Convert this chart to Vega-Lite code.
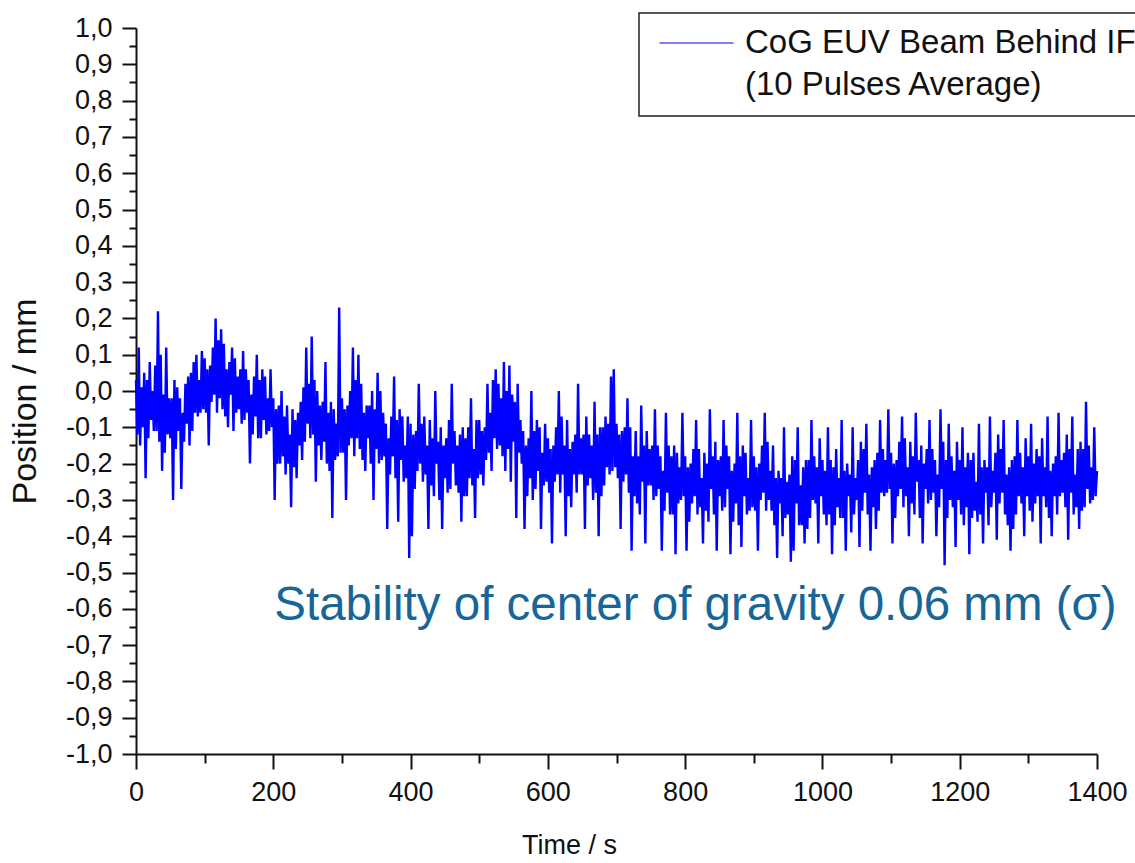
{
"$schema": "https://vega.github.io/schema/vega-lite/v6.json",
"width": 961,
"height": 726,
"autosize": {"type": "none"},
"padding": {"left": 136, "top": 28, "right": 38, "bottom": 109},
"background": "white",
"config": {"view": {"stroke": null}, "font": "Liberation Sans", "legend": {"strokeWidth": 1.5},
"axis": {"grid": false, "domainColor": "#111", "domainWidth": 2, "tickColor": "#111", "tickWidth": 2, "labelFont": "Liberation Sans", "labelFontSize": 27, "labelColor": "#111", "labelPadding": 10, "labelOverlap": false, "labelFlush": false, "titleFont": "Liberation Sans", "titleFontWeight": "normal", "titleColor": "#111", "titleBaseline": "middle", "titleAlign": "center"}},
"datasets": {"cog": [
{"t":0,"y":0.03},{"t":2,"y":-0.12},{"t":4,"y":0.12},{"t":6,"y":-0.15},{"t":8,"y":0.01},
{"t":10,"y":-0.10},{"t":12,"y":0.05},{"t":14,"y":-0.24},{"t":16,"y":0.03},{"t":18,"y":-0.13},
{"t":20,"y":0.08},{"t":22,"y":-0.08},{"t":24,"y":0.00},{"t":26,"y":-0.11},{"t":28,"y":0.07},
{"t":30,"y":-0.11},{"t":32,"y":0.22},{"t":34,"y":-0.14},{"t":36,"y":0.10},{"t":38,"y":-0.22},
{"t":40,"y":-0.01},{"t":42,"y":-0.17},{"t":44,"y":0.12},{"t":46,"y":-0.12},{"t":48,"y":-0.02},
{"t":50,"y":-0.13},{"t":52,"y":-0.02},{"t":54,"y":-0.30},{"t":56,"y":0.03},{"t":58,"y":-0.16},
{"t":60,"y":0.01},{"t":62,"y":-0.11},{"t":64,"y":-0.02},{"t":66,"y":-0.27},{"t":68,"y":-0.06},
{"t":70,"y":-0.14},{"t":72,"y":0.02},{"t":74,"y":-0.09},{"t":76,"y":0.04},{"t":78,"y":-0.15},
{"t":80,"y":0.05},{"t":82,"y":-0.11},{"t":84,"y":0.08},{"t":86,"y":-0.06},{"t":88,"y":0.10},
{"t":90,"y":-0.07},{"t":92,"y":0.03},{"t":94,"y":-0.06},{"t":96,"y":0.11},{"t":98,"y":-0.05},
{"t":100,"y":0.09},{"t":102,"y":-0.06},{"t":104,"y":0.06},{"t":106,"y":-0.15},{"t":108,"y":0.07},
{"t":110,"y":-0.03},{"t":112,"y":0.12},{"t":114,"y":-0.01},{"t":116,"y":0.20},{"t":118,"y":-0.06},
{"t":120,"y":0.14},{"t":122,"y":-0.02},{"t":124,"y":0.17},{"t":126,"y":-0.05},{"t":128,"y":0.13},
{"t":130,"y":-0.07},{"t":132,"y":0.06},{"t":134,"y":-0.10},{"t":136,"y":0.08},{"t":138,"y":-0.01},
{"t":140,"y":0.12},{"t":142,"y":-0.11},{"t":144,"y":0.09},{"t":146,"y":-0.06},{"t":148,"y":0.04},
{"t":150,"y":-0.05},{"t":152,"y":0.06},{"t":154,"y":-0.09},{"t":156,"y":0.11},{"t":158,"y":-0.08},
{"t":160,"y":0.06},{"t":162,"y":-0.06},{"t":164,"y":0.03},{"t":166,"y":-0.20},{"t":168,"y":-0.01},
{"t":170,"y":-0.12},{"t":172,"y":0.04},{"t":174,"y":-0.07},{"t":176,"y":0.10},{"t":178,"y":-0.13},
{"t":180,"y":0.03},{"t":182,"y":-0.13},{"t":184,"y":0.06},{"t":186,"y":-0.08},{"t":188,"y":0.04},
{"t":190,"y":-0.12},{"t":192,"y":-0.02},{"t":194,"y":-0.11},{"t":196,"y":0.06},{"t":198,"y":-0.10},
{"t":200,"y":-0.02},{"t":202,"y":-0.30},{"t":204,"y":-0.05},{"t":206,"y":-0.20},{"t":208,"y":-0.04},
{"t":210,"y":-0.20},{"t":212,"y":0.00},{"t":214,"y":-0.18},{"t":216,"y":-0.07},{"t":218,"y":-0.23},
{"t":220,"y":-0.04},{"t":222,"y":-0.20},{"t":224,"y":-0.12},{"t":226,"y":-0.32},{"t":228,"y":-0.05},
{"t":230,"y":-0.21},{"t":232,"y":-0.08},{"t":234,"y":-0.24},{"t":236,"y":-0.06},{"t":238,"y":-0.15},
{"t":240,"y":-0.03},{"t":242,"y":-0.19},{"t":244,"y":0.01},{"t":246,"y":-0.14},{"t":248,"y":0.12},
{"t":250,"y":-0.09},{"t":252,"y":0.02},{"t":254,"y":-0.13},{"t":256,"y":0.15},{"t":258,"y":-0.12},
{"t":260,"y":0.03},{"t":262,"y":-0.25},{"t":264,"y":0.00},{"t":266,"y":-0.15},{"t":268,"y":-0.04},
{"t":270,"y":-0.19},{"t":272,"y":-0.03},{"t":274,"y":-0.14},{"t":276,"y":0.08},{"t":278,"y":-0.20},
{"t":280,"y":-0.06},{"t":282,"y":-0.22},{"t":284,"y":-0.03},{"t":286,"y":-0.35},{"t":288,"y":-0.05},
{"t":290,"y":-0.19},{"t":292,"y":-0.09},{"t":294,"y":-0.18},{"t":296,"y":0.23},{"t":298,"y":-0.17},
{"t":300,"y":-0.02},{"t":302,"y":-0.17},{"t":304,"y":-0.05},{"t":306,"y":-0.30},{"t":308,"y":-0.04},
{"t":310,"y":-0.15},{"t":312,"y":0.00},{"t":314,"y":-0.13},{"t":316,"y":0.12},{"t":318,"y":-0.18},
{"t":320,"y":0.03},{"t":322,"y":-0.13},{"t":324,"y":0.10},{"t":326,"y":-0.16},{"t":328,"y":0.02},
{"t":330,"y":-0.19},{"t":332,"y":-0.06},{"t":334,"y":-0.22},{"t":336,"y":-0.04},{"t":338,"y":-0.13},
{"t":340,"y":-0.04},{"t":342,"y":-0.20},{"t":344,"y":0.00},{"t":346,"y":-0.30},{"t":348,"y":-0.05},
{"t":350,"y":-0.16},{"t":352,"y":0.05},{"t":354,"y":-0.20},{"t":356,"y":0.00},{"t":358,"y":-0.19},
{"t":360,"y":-0.06},{"t":362,"y":-0.18},{"t":364,"y":-0.09},{"t":366,"y":-0.38},{"t":368,"y":-0.13},
{"t":370,"y":-0.23},{"t":372,"y":-0.07},{"t":374,"y":-0.18},{"t":376,"y":0.04},{"t":378,"y":-0.24},
{"t":380,"y":-0.08},{"t":382,"y":-0.36},{"t":384,"y":-0.05},{"t":386,"y":-0.19},{"t":388,"y":-0.07},
{"t":390,"y":-0.25},{"t":392,"y":-0.15},{"t":394,"y":-0.24},{"t":396,"y":-0.07},{"t":398,"y":-0.46},
{"t":400,"y":-0.09},{"t":402,"y":-0.40},{"t":404,"y":-0.12},{"t":406,"y":-0.27},{"t":408,"y":-0.11},
{"t":410,"y":-0.22},{"t":412,"y":0.02},{"t":414,"y":-0.20},{"t":416,"y":-0.09},{"t":418,"y":-0.25},
{"t":420,"y":-0.07},{"t":422,"y":-0.23},{"t":424,"y":-0.15},{"t":426,"y":-0.38},{"t":428,"y":-0.08},
{"t":430,"y":-0.26},{"t":432,"y":-0.13},{"t":434,"y":-0.29},{"t":436,"y":0.00},{"t":438,"y":-0.20},
{"t":440,"y":-0.14},{"t":442,"y":-0.30},{"t":444,"y":-0.10},{"t":446,"y":-0.38},{"t":448,"y":-0.15},
{"t":450,"y":-0.24},{"t":452,"y":-0.13},{"t":454,"y":-0.28},{"t":456,"y":-0.08},{"t":458,"y":-0.27},
{"t":460,"y":0.02},{"t":462,"y":-0.20},{"t":464,"y":-0.11},{"t":466,"y":-0.26},{"t":468,"y":-0.15},
{"t":470,"y":-0.28},{"t":472,"y":-0.12},{"t":474,"y":-0.36},{"t":476,"y":-0.10},{"t":478,"y":-0.29},
{"t":480,"y":-0.13},{"t":482,"y":-0.29},{"t":484,"y":-0.10},{"t":486,"y":-0.24},{"t":488,"y":-0.02},
{"t":490,"y":-0.26},{"t":492,"y":-0.16},{"t":494,"y":-0.35},{"t":496,"y":-0.08},{"t":498,"y":-0.24},
{"t":500,"y":-0.08},{"t":502,"y":-0.23},{"t":504,"y":-0.11},{"t":506,"y":-0.26},{"t":508,"y":-0.10},
{"t":510,"y":-0.19},{"t":512,"y":0.02},{"t":514,"y":-0.17},{"t":516,"y":-0.06},{"t":518,"y":-0.22},
{"t":520,"y":0.03},{"t":522,"y":-0.13},{"t":524,"y":0.06},{"t":526,"y":-0.16},{"t":528,"y":0.02},
{"t":530,"y":-0.15},{"t":532,"y":-0.02},{"t":534,"y":-0.18},{"t":536,"y":0.08},{"t":538,"y":-0.22},
{"t":540,"y":0.00},{"t":542,"y":-0.16},{"t":544,"y":0.07},{"t":546,"y":-0.25},{"t":548,"y":-0.01},
{"t":550,"y":-0.14},{"t":552,"y":-0.03},{"t":554,"y":-0.35},{"t":556,"y":0.02},{"t":558,"y":-0.17},
{"t":560,"y":-0.08},{"t":562,"y":-0.20},{"t":564,"y":-0.11},{"t":566,"y":-0.38},{"t":568,"y":-0.15},
{"t":570,"y":-0.29},{"t":572,"y":-0.13},{"t":574,"y":-0.24},{"t":576,"y":0.00},{"t":578,"y":-0.30},
{"t":580,"y":-0.11},{"t":582,"y":-0.27},{"t":584,"y":-0.08},{"t":586,"y":-0.22},{"t":588,"y":-0.10},
{"t":590,"y":-0.38},{"t":592,"y":-0.17},{"t":594,"y":-0.26},{"t":596,"y":-0.09},{"t":598,"y":-0.25},
{"t":600,"y":-0.13},{"t":602,"y":-0.28},{"t":604,"y":-0.16},{"t":606,"y":-0.42},{"t":608,"y":-0.15},
{"t":610,"y":-0.25},{"t":612,"y":-0.10},{"t":614,"y":-0.23},{"t":616,"y":0.00},{"t":618,"y":-0.28},
{"t":620,"y":-0.07},{"t":622,"y":-0.23},{"t":624,"y":-0.15},{"t":626,"y":-0.40},{"t":628,"y":-0.08},
{"t":630,"y":-0.29},{"t":632,"y":-0.16},{"t":634,"y":-0.32},{"t":636,"y":-0.14},{"t":638,"y":-0.23},
{"t":640,"y":-0.12},{"t":642,"y":-0.28},{"t":644,"y":0.02},{"t":646,"y":-0.23},{"t":648,"y":-0.13},
{"t":650,"y":-0.23},{"t":652,"y":-0.12},{"t":654,"y":-0.38},{"t":656,"y":-0.07},{"t":658,"y":-0.26},
{"t":660,"y":-0.12},{"t":662,"y":-0.24},{"t":664,"y":-0.15},{"t":666,"y":-0.30},{"t":668,"y":-0.03},
{"t":670,"y":-0.28},{"t":672,"y":-0.12},{"t":674,"y":-0.40},{"t":676,"y":-0.10},{"t":678,"y":-0.29},
{"t":680,"y":-0.10},{"t":682,"y":-0.26},{"t":684,"y":-0.07},{"t":686,"y":-0.21},{"t":688,"y":-0.09},
{"t":690,"y":-0.23},{"t":692,"y":0.04},{"t":694,"y":-0.22},{"t":696,"y":0.06},{"t":698,"y":-0.21},
{"t":700,"y":-0.09},{"t":702,"y":-0.24},{"t":704,"y":-0.12},{"t":706,"y":-0.38},{"t":708,"y":-0.11},
{"t":710,"y":-0.25},{"t":712,"y":-0.10},{"t":714,"y":-0.23},{"t":716,"y":-0.02},{"t":718,"y":-0.28},
{"t":720,"y":-0.10},{"t":722,"y":-0.44},{"t":724,"y":-0.18},{"t":726,"y":-0.29},{"t":728,"y":-0.11},
{"t":730,"y":-0.31},{"t":732,"y":-0.18},{"t":734,"y":-0.34},{"t":736,"y":-0.04},{"t":738,"y":-0.25},
{"t":740,"y":-0.15},{"t":742,"y":-0.42},{"t":744,"y":-0.11},{"t":746,"y":-0.26},{"t":748,"y":-0.16},
{"t":750,"y":-0.26},{"t":752,"y":-0.15},{"t":754,"y":-0.30},{"t":756,"y":-0.05},{"t":758,"y":-0.29},
{"t":760,"y":-0.15},{"t":762,"y":-0.27},{"t":764,"y":-0.18},{"t":766,"y":-0.44},{"t":768,"y":-0.22},
{"t":770,"y":-0.33},{"t":772,"y":-0.06},{"t":774,"y":-0.28},{"t":776,"y":-0.15},{"t":778,"y":-0.34},
{"t":780,"y":-0.18},{"t":782,"y":-0.34},{"t":784,"y":-0.15},{"t":786,"y":-0.45},{"t":788,"y":-0.17},
{"t":790,"y":-0.31},{"t":792,"y":-0.21},{"t":794,"y":-0.30},{"t":796,"y":-0.06},{"t":798,"y":-0.29},
{"t":800,"y":-0.18},{"t":802,"y":-0.44},{"t":804,"y":-0.21},{"t":806,"y":-0.36},{"t":808,"y":-0.20},
{"t":810,"y":-0.31},{"t":812,"y":-0.16},{"t":814,"y":-0.29},{"t":816,"y":-0.08},{"t":818,"y":-0.34},
{"t":820,"y":-0.16},{"t":822,"y":-0.32},{"t":824,"y":-0.24},{"t":826,"y":-0.42},{"t":828,"y":-0.17},
{"t":830,"y":-0.33},{"t":832,"y":-0.20},{"t":834,"y":-0.36},{"t":836,"y":-0.05},{"t":838,"y":-0.27},
{"t":840,"y":-0.18},{"t":842,"y":-0.34},{"t":844,"y":-0.14},{"t":846,"y":-0.44},{"t":848,"y":-0.19},
{"t":850,"y":-0.29},{"t":852,"y":-0.18},{"t":854,"y":-0.33},{"t":856,"y":-0.08},{"t":858,"y":-0.32},
{"t":860,"y":-0.15},{"t":862,"y":-0.27},{"t":864,"y":-0.18},{"t":866,"y":-0.45},{"t":868,"y":-0.22},
{"t":870,"y":-0.36},{"t":872,"y":-0.20},{"t":874,"y":-0.31},{"t":876,"y":-0.06},{"t":878,"y":-0.37},
{"t":880,"y":-0.18},{"t":882,"y":-0.43},{"t":884,"y":-0.15},{"t":886,"y":-0.29},{"t":888,"y":-0.17},
{"t":890,"y":-0.34},{"t":892,"y":-0.24},{"t":894,"y":-0.33},{"t":896,"y":-0.08},{"t":898,"y":-0.32},
{"t":900,"y":-0.18},{"t":902,"y":-0.33},{"t":904,"y":-0.21},{"t":906,"y":-0.44},{"t":908,"y":-0.20},
{"t":910,"y":-0.30},{"t":912,"y":-0.15},{"t":914,"y":-0.28},{"t":916,"y":-0.06},{"t":918,"y":-0.33},
{"t":920,"y":-0.14},{"t":922,"y":-0.30},{"t":924,"y":-0.22},{"t":926,"y":-0.33},{"t":928,"y":-0.15},
{"t":930,"y":-0.37},{"t":932,"y":-0.24},{"t":934,"y":-0.46},{"t":936,"y":-0.22},{"t":938,"y":-0.31},
{"t":940,"y":-0.24},{"t":942,"y":-0.40},{"t":944,"y":-0.10},{"t":946,"y":-0.35},{"t":948,"y":-0.25},
{"t":950,"y":-0.34},{"t":952,"y":-0.23},{"t":954,"y":-0.47},{"t":956,"y":-0.18},{"t":958,"y":-0.44},
{"t":960,"y":-0.19},{"t":962,"y":-0.31},{"t":964,"y":-0.10},{"t":966,"y":-0.37},{"t":968,"y":-0.26},
{"t":970,"y":-0.37},{"t":972,"y":-0.21},{"t":974,"y":-0.42},{"t":976,"y":-0.19},{"t":978,"y":-0.38},
{"t":980,"y":-0.19},{"t":982,"y":-0.35},{"t":984,"y":-0.08},{"t":986,"y":-0.30},{"t":988,"y":-0.18},
{"t":990,"y":-0.31},{"t":992,"y":-0.21},{"t":994,"y":-0.42},{"t":996,"y":-0.13},{"t":998,"y":-0.29},
{"t":1000,"y":-0.19},{"t":1002,"y":-0.34},{"t":1004,"y":-0.22},{"t":1006,"y":-0.37},{"t":1008,"y":-0.10},
{"t":1010,"y":-0.34},{"t":1012,"y":-0.19},{"t":1014,"y":-0.45},{"t":1016,"y":-0.21},{"t":1018,"y":-0.37},
{"t":1020,"y":-0.16},{"t":1022,"y":-0.32},{"t":1024,"y":-0.24},{"t":1026,"y":-0.35},{"t":1028,"y":-0.08},
{"t":1030,"y":-0.35},{"t":1032,"y":-0.22},{"t":1034,"y":-0.44},{"t":1036,"y":-0.20},{"t":1038,"y":-0.29},
{"t":1040,"y":-0.23},{"t":1042,"y":-0.39},{"t":1044,"y":-0.10},{"t":1046,"y":-0.34},{"t":1048,"y":-0.24},
{"t":1050,"y":-0.30},{"t":1052,"y":-0.19},{"t":1054,"y":-0.43},{"t":1056,"y":-0.14},{"t":1058,"y":-0.33},
{"t":1060,"y":-0.16},{"t":1062,"y":-0.28},{"t":1064,"y":-0.09},{"t":1066,"y":-0.34},{"t":1068,"y":-0.23},
{"t":1070,"y":-0.44},{"t":1072,"y":-0.21},{"t":1074,"y":-0.32},{"t":1076,"y":-0.19},{"t":1078,"y":-0.38},
{"t":1080,"y":-0.17},{"t":1082,"y":-0.33},{"t":1084,"y":-0.08},{"t":1086,"y":-0.28},{"t":1088,"y":-0.16},
{"t":1090,"y":-0.29},{"t":1092,"y":-0.19},{"t":1094,"y":-0.28},{"t":1096,"y":-0.05},{"t":1098,"y":-0.27},
{"t":1100,"y":-0.17},{"t":1102,"y":-0.42},{"t":1104,"y":-0.20},{"t":1106,"y":-0.35},{"t":1108,"y":-0.19},
{"t":1110,"y":-0.29},{"t":1112,"y":-0.14},{"t":1114,"y":-0.27},{"t":1116,"y":-0.07},{"t":1118,"y":-0.32},
{"t":1120,"y":-0.13},{"t":1122,"y":-0.29},{"t":1124,"y":-0.21},{"t":1126,"y":-0.40},{"t":1128,"y":-0.14},
{"t":1130,"y":-0.31},{"t":1132,"y":-0.18},{"t":1134,"y":-0.34},{"t":1136,"y":-0.06},{"t":1138,"y":-0.25},
{"t":1140,"y":-0.19},{"t":1142,"y":-0.35},{"t":1144,"y":-0.15},{"t":1146,"y":-0.42},{"t":1148,"y":-0.20},
{"t":1150,"y":-0.27},{"t":1152,"y":-0.16},{"t":1154,"y":-0.31},{"t":1156,"y":-0.08},{"t":1158,"y":-0.30},
{"t":1160,"y":-0.16},{"t":1162,"y":-0.28},{"t":1164,"y":-0.19},{"t":1166,"y":-0.40},{"t":1168,"y":-0.23},
{"t":1170,"y":-0.32},{"t":1172,"y":-0.05},{"t":1174,"y":-0.27},{"t":1176,"y":-0.14},{"t":1178,"y":-0.48},
{"t":1180,"y":-0.19},{"t":1182,"y":-0.35},{"t":1184,"y":-0.09},{"t":1186,"y":-0.30},{"t":1188,"y":-0.18},
{"t":1190,"y":-0.32},{"t":1192,"y":-0.22},{"t":1194,"y":-0.43},{"t":1196,"y":-0.14},{"t":1198,"y":-0.30},
{"t":1200,"y":-0.19},{"t":1202,"y":-0.34},{"t":1204,"y":-0.10},{"t":1206,"y":-0.37},{"t":1208,"y":-0.21},
{"t":1210,"y":-0.32},{"t":1212,"y":-0.17},{"t":1214,"y":-0.45},{"t":1216,"y":-0.19},{"t":1218,"y":-0.35},
{"t":1220,"y":-0.17},{"t":1222,"y":-0.33},{"t":1224,"y":-0.25},{"t":1226,"y":-0.36},{"t":1228,"y":-0.09},
{"t":1230,"y":-0.34},{"t":1232,"y":-0.21},{"t":1234,"y":-0.42},{"t":1236,"y":-0.19},{"t":1238,"y":-0.28},
{"t":1240,"y":-0.21},{"t":1242,"y":-0.37},{"t":1244,"y":-0.07},{"t":1246,"y":-0.32},{"t":1248,"y":-0.22},
{"t":1250,"y":-0.28},{"t":1252,"y":-0.17},{"t":1254,"y":-0.41},{"t":1256,"y":-0.12},{"t":1258,"y":-0.31},
{"t":1260,"y":-0.16},{"t":1262,"y":-0.28},{"t":1264,"y":-0.08},{"t":1266,"y":-0.34},{"t":1268,"y":-0.23},
{"t":1270,"y":-0.37},{"t":1272,"y":-0.21},{"t":1274,"y":-0.44},{"t":1276,"y":-0.19},{"t":1278,"y":-0.38},
{"t":1280,"y":-0.18},{"t":1282,"y":-0.34},{"t":1284,"y":-0.08},{"t":1286,"y":-0.29},{"t":1288,"y":-0.17},
{"t":1290,"y":-0.31},{"t":1292,"y":-0.21},{"t":1294,"y":-0.40},{"t":1296,"y":-0.13},{"t":1298,"y":-0.29},
{"t":1300,"y":-0.18},{"t":1302,"y":-0.33},{"t":1304,"y":-0.09},{"t":1306,"y":-0.36},{"t":1308,"y":-0.20},
{"t":1310,"y":-0.31},{"t":1312,"y":-0.16},{"t":1314,"y":-0.29},{"t":1316,"y":-0.18},{"t":1318,"y":-0.42},
{"t":1320,"y":-0.13},{"t":1322,"y":-0.29},{"t":1324,"y":-0.21},{"t":1326,"y":-0.32},{"t":1328,"y":-0.07},
{"t":1330,"y":-0.35},{"t":1332,"y":-0.22},{"t":1334,"y":-0.40},{"t":1336,"y":-0.20},{"t":1338,"y":-0.29},
{"t":1340,"y":-0.18},{"t":1342,"y":-0.34},{"t":1344,"y":-0.06},{"t":1346,"y":-0.29},{"t":1348,"y":-0.19},
{"t":1350,"y":-0.28},{"t":1352,"y":-0.17},{"t":1354,"y":-0.32},{"t":1356,"y":-0.12},{"t":1358,"y":-0.41},
{"t":1360,"y":-0.16},{"t":1362,"y":-0.28},{"t":1364,"y":-0.07},{"t":1366,"y":-0.34},{"t":1368,"y":-0.23},
{"t":1370,"y":-0.32},{"t":1372,"y":-0.16},{"t":1374,"y":-0.38},{"t":1376,"y":-0.14},{"t":1378,"y":-0.33},
{"t":1380,"y":-0.16},{"t":1382,"y":-0.32},{"t":1384,"y":-0.03},{"t":1386,"y":-0.27},{"t":1388,"y":-0.15},
{"t":1390,"y":-0.31},{"t":1392,"y":-0.21},{"t":1394,"y":-0.30},{"t":1396,"y":-0.10},{"t":1398,"y":-0.29},
{"t":1400,"y":-0.22}
]},
"layer": [
{
"data": {"name": "cog"},
"mark": {"type": "line", "strokeWidth": 2.4},
"encoding": {
"x": {"field": "t", "type": "quantitative", "scale": {"domain": [0, 1400], "nice": false},
"axis": {"values": [0,100,200,300,400,500,600,700,800,900,1000,1100,1200,1300,1400], "format": "d", "title": "Time / s",
"tickSize": {"condition": {"test": "datum.value % 200 === 0", "value": 15}, "value": 9},
"labelExpr": "datum.value % 200 === 0 ? datum.label : ''",
"titleFontSize": 27, "titleX": 433, "titleY": 91}},
"y": {"field": "y", "type": "quantitative", "scale": {"domain": [-1, 1], "nice": false},
"axis": {"values": [-1,-0.95,-0.9,-0.85,-0.8,-0.75,-0.7,-0.65,-0.6,-0.55,-0.5,-0.45,-0.4,-0.35,-0.3,-0.25,-0.2,-0.15,-0.1,-0.05,0,0.05,0.1,0.15,0.2,0.25,0.3,0.35,0.4,0.45,0.5,0.55,0.6,0.65,0.7,0.75,0.8,0.85,0.9,0.95,1], "title": "Position / mm",
"tickSize": {"condition": {"test": "abs(datum.value*10 - round(datum.value*10)) < 0.01", "value": 14}, "value": 7},
"labelExpr": "abs(datum.value*10 - round(datum.value*10)) < 0.01 ? ((datum.value < -0.001 ? '-' : '') + replace(format(abs(datum.value), '.1f'), '.', ',')) : ''",
"titleFontSize": 34, "titleX": -111, "titleY": 373, "titleAngle": -90}},
"color": {"datum": "CoG EUV Beam Behind IF", "scale": {"range": ["#0000ff"]},
"legend": {"orient": "none", "legendX": 503, "legendY": -15, "title": null,
"strokeColor": "#222", "fillColor": "white", "padding": 14,
"symbolType": "stroke", "symbolSize": 5476, "symbolStrokeWidth": 1, "symbolOffset": 6,
"labelOffset": 11, "labelFont": "Liberation Sans", "labelFontSize": 33, "labelColor": "#111", "labelLimit": 2000,
"labelBaseline": "middle",
"labelExpr": "['CoG EUV Beam Behind IF', '(10 Pulses Average)']",
"encode": {"symbols": {"update": {"y": {"value": 16}}}, "labels": {"update": {"y": {"value": 16}, "lineHeight": {"value": 42}}}}}}
}
},
{
"data": {"values": [{}]},
"mark": {"type": "text", "text": "Stability of center of gravity 0.06 mm (σ)", "font": "Liberation Sans", "fontSize": 47.5, "color": "#176697", "align": "center", "baseline": "alphabetic"},
"encoding": {
"x": {"datum": 815, "type": "quantitative",
"axis": {"values": [0,100,200,300,400,500,600,700,800,900,1000,1100,1200,1300,1400], "format": "d", "title": "Time / s",
"tickSize": {"condition": {"test": "datum.value % 200 === 0", "value": 15}, "value": 9},
"labelExpr": "datum.value % 200 === 0 ? datum.label : ''",
"titleFontSize": 27, "titleX": 433, "titleY": 91}},
"y": {"datum": -0.63, "type": "quantitative",
"axis": {"values": [-1,-0.95,-0.9,-0.85,-0.8,-0.75,-0.7,-0.65,-0.6,-0.55,-0.5,-0.45,-0.4,-0.35,-0.3,-0.25,-0.2,-0.15,-0.1,-0.05,0,0.05,0.1,0.15,0.2,0.25,0.3,0.35,0.4,0.45,0.5,0.55,0.6,0.65,0.7,0.75,0.8,0.85,0.9,0.95,1], "title": "Position / mm",
"tickSize": {"condition": {"test": "abs(datum.value*10 - round(datum.value*10)) < 0.01", "value": 14}, "value": 7},
"labelExpr": "abs(datum.value*10 - round(datum.value*10)) < 0.01 ? ((datum.value < -0.001 ? '-' : '') + replace(format(abs(datum.value), '.1f'), '.', ',')) : ''",
"titleFontSize": 34, "titleX": -111, "titleY": 373, "titleAngle": -90}}
}
}
]
}
